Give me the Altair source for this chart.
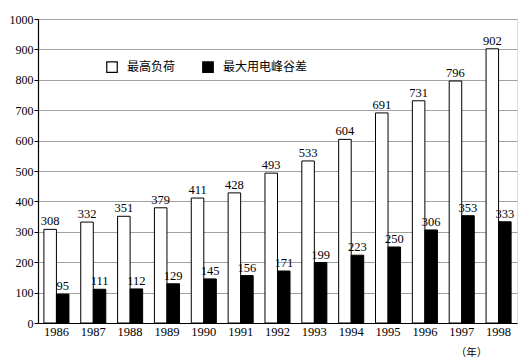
import altair as alt
import pandas as pd

years = ["1986", "1987", "1988", "1989", "1990", "1991", "1992", "1993", "1994", "1995", "1996", "1997", "1998"]
max_load = [308, 332, 351, 379, 411, 428, 493, 533, 604, 691, 731, 796, 902]
peak_diff = [95, 111, 112, 129, 145, 156, 171, 199, 223, 250, 306, 353, 333]
series_names = ["最高负荷", "最大用电峰谷差"]
y_ticks = [0, 100, 200, 300, 400, 500, 600, 700, 800, 900, 1000]

rows = []
for i, y in enumerate(years):
    rows.append({"year": y, "series": series_names[0], "order": 0, "value": max_load[i]})
    rows.append({"year": y, "series": series_names[1], "order": 1, "value": peak_diff[i]})
df = pd.DataFrame(rows)

serif = "Liberation Serif"
cjk = "Noto Sans CJK SC"

x_axis = alt.Axis(title="（年）", labelAngle=0, ticks=False, labelFont=serif,
                  labelFontSize=12.5, labelColor="black", labelPadding=2,
                  domainColor="black", domainWidth=1.2,
                  titleFont=cjk, titleFontSize=10.5, titleFontWeight="normal",
                  titleX=433, titleY=29, titleAlign="center", titleBaseline="middle",
                  titleColor="black")
y_axis = alt.Axis(title=None, values=y_ticks, format="d", labelOverlap=False,
                  labelFont=serif, labelFontSize=12,
                  labelColor="black", tickSize=4, tickColor="black", labelPadding=1,
                  domainColor="black", domainWidth=1.2,
                  grid=True, gridColor="#a0a0a0", gridWidth=1)

x = alt.X("year:N", sort=years, scale=alt.Scale(paddingInner=0.32, paddingOuter=0.16), axis=x_axis)
xo = alt.XOffset("series:N", sort=series_names, scale=alt.Scale(paddingInner=0, paddingOuter=0))
y = alt.Y("value:Q", scale=alt.Scale(domain=[0, 1000], nice=False), axis=y_axis)

bars = alt.Chart(df).mark_bar(stroke="black", strokeWidth=1).encode(
    x=x, xOffset=xo, y=y,
    color=alt.Color("series:N", sort=series_names,
                    scale=alt.Scale(domain=series_names, range=["white", "black"]),
                    legend=alt.Legend(title=None, orient="none", legendX=68, legendY=42,
                                      direction="horizontal", symbolType="square",
                                      symbolSize=110, symbolStrokeColor="black",
                                      symbolStrokeWidth=1.2, labelFont=cjk, labelFontSize=12,
                                      labelColor="black", columnPadding=24, labelOffset=9)),
)

labels = alt.Chart(df).mark_text(baseline="bottom", dy=-1, font=serif, fontSize=12.5,
                                 color="black").encode(
    x=x, xOffset=xo, y=y, text="value:Q")

chart = (bars + labels).properties(
    width=479, height=304,
    autosize=alt.AutoSizeParams(type="none"),
    padding={"left": 30, "top": 11, "right": 2, "bottom": 34},
).configure_view(stroke="#a0a0a0", strokeWidth=1).configure(background="white")

chart.save("out.html", embed_options={"renderer": "svg", "actions": False})
